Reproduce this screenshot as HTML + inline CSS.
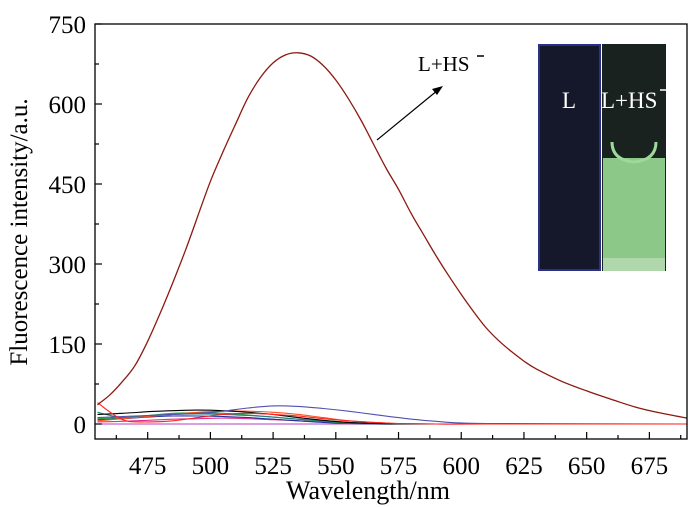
<!DOCTYPE html>
<html><head><meta charset="utf-8"><style>
body{margin:0;background:#fff;}
svg{display:block;font-family:"Liberation Serif",serif;}
</style></head><body>
<svg id="chart" width="700" height="507" viewBox="0 0 700 507">
<g id="plot"></g>
</svg>
<script>
const mainWl = [455,460,465,470,475,480,485,490,495,500,505,510,515,520,525,530,535,540,545,550,555,560,565,570,575,580,585,590,595,600,605,610,615,620,625,630,640,650,660,670,680,690];
const mainVal = [36,55,80,110,155,208,265,325,390,455,510,562,612,650,677,692,696,690,672,645,610,570,525,480,440,395,355,315,278,243,210,180,156,136,118,103,80,62,46,31,20,11];
const baseWl = [455,465,475,485,495,505,515,525,535,545,555,565,575,590,610,690];
const baseRed = [40,8,4,6,12,18,20,18,15,10,6,3,1,0,0,0];
const baseBlue = [12,14,16,18,20,24,30,34,33,29,24,18,12,5,1,0];
const baseBlack = [18,20,23,25,26,25,22,18,12,7,3,1,0,0,0,0];
const baseTeal = [22,12,15,18,19,18,16,13,9,6,3,1,0,0,0,0];
const baseGreen = [10,12,16,20,21,20,17,13,9,5,2,1,0,0,0,0];
const baseOrange = [6,10,14,18,22,24,24,22,18,12,6,3,1,0,0,0];
const basePink = [4,5,7,9,10,11,10,8,6,4,2,1,0,0,0,0];
const baseNavy = [8,10,13,15,15,14,12,9,6,3,1,0,0,0,0,0];
const basePurple = [0,0,0,0,0,0,0,0,0,0,0,0,0,0,0,0];
const yTicks = [0,150,300,450,600,750];
const xTicks = [475,500,525,550,575,600,625,650,675];

const L=95,R=687,T=24,B=439;
const xMin=454,xMax=690,y0=424,pxPerUnit=400/750;
const sx=v=>L+(v-xMin)*(R-L)/(xMax-xMin);
const sy=v=>y0-v*pxPerUnit;
const NS="http://www.w3.org/2000/svg";
const g=document.getElementById('plot');
function mk(t,a,p){const e=document.createElementNS(NS,t);for(const k in a)e.setAttribute(k,a[k]);(p||g).appendChild(e);return e;}
function line(wl,vals,color,name,w){
  const P=wl.map((x,i)=>[sx(x),sy(vals[i])]);
  let d='M'+P[0][0].toFixed(1)+','+P[0][1].toFixed(1);
  for(let i=0;i<P.length-1;i++){
    const p0=P[i-1]||P[i],p1=P[i],p2=P[i+1],p3=P[i+2]||P[i+1];
    const c1=[p1[0]+(p2[0]-p0[0])/6,p1[1]+(p2[1]-p0[1])/6];
    const c2=[p2[0]-(p3[0]-p1[0])/6,p2[1]-(p3[1]-p1[1])/6];
    d+=' C'+c1.map(n=>n.toFixed(1))+' '+c2.map(n=>n.toFixed(1))+' '+p2.map(n=>n.toFixed(1));
  }
  const e=mk('path',{d:d,fill:'none',stroke:color,'stroke-width':w||1.1,'stroke-linejoin':'round'});
  
  
}
// inset photo
const ph=mk('g',{});


mk('rect',{x:538,y:44,width:128,height:227,fill:'#fff'},ph);
mk('rect',{x:538,y:44,width:63,height:227,fill:'#15172a'},ph);
mk('rect',{x:539,y:45,width:61,height:225,fill:'none',stroke:'#28308a','stroke-width':2},ph);
mk('rect',{x:602,y:44,width:64,height:227,fill:'#1a2220'},ph);
mk('rect',{x:603,y:158,width:62,height:113,fill:'#8cc888'},ph);
mk('rect',{x:603,y:258,width:62,height:13,fill:'#b0d6ac'},ph);
mk('path',{d:'M612 142 Q612 160 634 162 Q656 160 656 142',fill:'none',stroke:'#9ed89a','stroke-width':3},ph);
const tL=mk('text',{x:569,y:108,'font-size':23,fill:'#fff','text-anchor':'middle'},ph);tL.textContent='L';

const tL2=mk('text',{x:601,y:108,'font-size':23,fill:'#fff'},ph);tL2.textContent='L+HS';

mk('line',{x1:660,y1:90,x2:667,y2:90,stroke:'#fff','stroke-width':1.5},ph);

// baseline series
line(baseWl,basePurple,'#b040c0','series-purple');
line(baseWl,basePink,'#e03090','series-pink');
line(baseWl,baseNavy,'#2030a0','series-navy');
line(baseWl,baseGreen,'#30a040','series-green');
line(baseWl,baseTeal,'#208080','series-teal');
line(baseWl,baseOrange,'#ff5020','series-orange');
line(baseWl,baseBlack,'#000','series-black');
line(baseWl,baseBlue,'#5050b0','series-blue');
line(baseWl,baseRed,'#ff2020','series-red');
line(mainWl,mainVal,'#8b1a10','series-l-hs',1.3);

// axes frame
const fr=mk('rect',{x:L,y:T,width:R-L,height:B-T,fill:'none',stroke:'#000','stroke-width':1.3});

yTicks.forEach((v,i)=>{
  mk('line',{x1:L,y1:sy(v),x2:L+7,y2:sy(v),stroke:'#000','stroke-width':1.2});
  if(i<yTicks.length-1){const m=(v+yTicks[i+1])/2;mk('line',{x1:L,y1:sy(m),x2:L+4,y2:sy(m),stroke:'#000','stroke-width':1.2});}
  const t=mk('text',{x:L-9,y:sy(v)+9,'font-size':25,'text-anchor':'end'});t.textContent=v;
  
});
for(let v=462.5;v<=687.5;v+=12.5){
  const major=xTicks.includes(v);
  mk('line',{x1:sx(v),y1:B,x2:sx(v),y2:B-(major?7:4),stroke:'#000','stroke-width':1.2});
}
xTicks.forEach(v=>{
  const t=mk('text',{x:sx(v),y:474,'font-size':25,'text-anchor':'middle'});t.textContent=v;
  
});
const xt=mk('text',{x:368,y:499,'font-size':26,'text-anchor':'middle'});xt.textContent='Wavelength/nm';

const yt=mk('text',{x:0,y:0,'font-size':25,'text-anchor':'middle',transform:'translate(27,232) rotate(-90)'});yt.textContent='Fluorescence intensity/a.u.';


// annotation
const an=mk('g',{});


mk('line',{x1:377,y1:140,x2:438,y2:90,stroke:'#000','stroke-width':1.2},an);
mk('polygon',{points:'443,86 432,89 437,95',fill:'#000'},an);
const at=mk('text',{x:418,y:71,'font-size':21},an);at.textContent='L+HS';

mk('line',{x1:477,y1:56,x2:484,y2:56,stroke:'#000','stroke-width':1.5},an);
</script>
</body></html>
